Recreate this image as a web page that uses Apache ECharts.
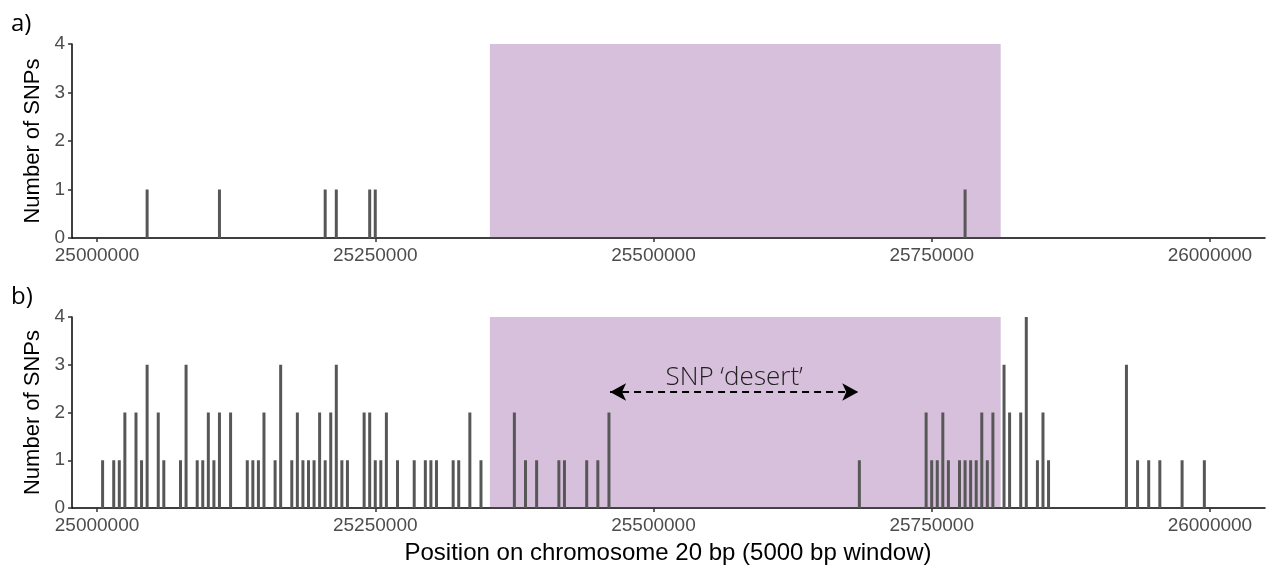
<!DOCTYPE html>
<html>
<head>
<meta charset="utf-8">
<script src="https://cdn.jsdelivr.net/npm/echarts@6/dist/echarts.min.js"></script>
<style>
html,body{margin:0;padding:0;background:#fff;}
#main{width:1268px;height:568px;}
</style>
</head>
<body>
<div id="main"></div>
<script>
// panel a) SNP counts per 5000 bp window
var posA = [25045000, 25110000, 25205000, 25215000, 25245000, 25250000, 25780000];
var cntA = [1, 1, 1, 1, 1, 1, 1];

// panel b)
var posB = [25005000, 25015000, 25020000, 25025000, 25035000, 25040000, 25045000, 25055000, 25060000,
	25075000, 25080000, 25090000, 25095000, 25100000, 25105000, 25110000, 25120000, 25135000, 25140000,
	25145000, 25150000, 25160000, 25165000, 25175000, 25180000, 25185000, 25190000, 25195000, 25200000,
	25205000, 25210000, 25215000, 25220000, 25225000, 25240000, 25245000, 25250000, 25255000, 25260000,
	25270000, 25285000, 25295000, 25300000, 25305000, 25320000, 25325000, 25335000, 25345000,
	25375000, 25385000, 25395000, 25415000, 25420000, 25440000, 25450000, 25460000, 25685000,
	25745000, 25750000, 25755000, 25760000, 25765000, 25775000, 25780000, 25785000, 25790000, 25795000,
	25800000, 25805000, 25815000, 25820000, 25830000, 25835000, 25845000, 25850000, 25855000,
	25925000, 25935000, 25945000, 25955000, 25975000, 25995000];
var cntB = [1, 1, 1, 2, 2, 1, 3, 2, 1,
	1, 3, 1, 1, 2, 1, 2, 2, 1, 1,
	1, 2, 1, 3, 1, 2, 1, 1, 1, 2,
	1, 2, 3, 1, 1, 2, 2, 1, 1, 2,
	1, 1, 1, 1, 1, 1, 1, 2, 1,
	2, 1, 1, 1, 1, 1, 1, 2, 1,
	2, 1, 1, 2, 1, 1, 1, 1, 1, 2,
	1, 2, 3, 2, 2, 4, 1, 2, 1,
	3, 1, 1, 1, 1, 1];

// highlighted region and x ticks
var regionStart = 25353000, regionEnd = 25812000;
var xTicks = [25000000, 25250000, 25500000, 25750000, 26000000];
var desertFrom = 25461000, desertTo = 25684000, desertY = 2.43;

function pairs(xs, ys){
	var out = [];
	for (var i = 0; i < xs.length; i++) out.push([xs[i], ys[i]]);
	return out;
}

var txtCol = '#4d4d4d';
var barCol = '#575757';
var fnt = '"Liberation Sans", Arial, sans-serif';

function xAxisOpt(idx){
	return {
		type: 'value', gridIndex: idx, min: 24977500, max: 26049500,
		axisLine: {show: true, onZero: false, lineStyle: {color: '#000', width: 1.5}},
		axisTick: {show: true, length: 4, customValues: xTicks, lineStyle: {color: '#333', width: 1.5}},
		axisLabel: {customValues: xTicks, color: txtCol, fontSize: 19, fontFamily: fnt, margin: 8,
			formatter: function(v){ return String(v); }},
		splitLine: {show: false}
	};
}
function yAxisOpt(idx){
	return {
		type: 'value', gridIndex: idx, min: 0, max: 4, interval: 1,
		name: 'Number of SNPs', nameLocation: 'middle', nameGap: 19,
		nameTextStyle: {color: '#000', fontSize: 22, fontFamily: fnt},
		axisLine: {show: true, lineStyle: {color: '#000', width: 1.5}},
		axisTick: {show: true, length: 4, lineStyle: {color: '#333', width: 1.5}},
		axisLabel: {color: txtCol, fontSize: 19, fontFamily: fnt, margin: 7},
		splitLine: {show: false}
	};
}

var myChart = echarts.init(document.getElementById('main'));
var option = {
	animation: false,
	backgroundColor: '#fff',
	grid: [
		{left: 72, top: 44, width: 1193, height: 194},
		{left: 72, top: 317, width: 1193, height: 191}
	],
	xAxis: [xAxisOpt(0), xAxisOpt(1)],
	yAxis: [yAxisOpt(0), yAxisOpt(1)],
	graphic: [
		{type: 'text', left: 11, top: 12, style: {text: 'a)', fontSize: 24, fontFamily: '"Open Sans", sans-serif', fill: '#000'}},
		{type: 'text', left: 11, top: 285, style: {text: 'b)', fontSize: 24, fontFamily: '"Open Sans", sans-serif', fill: '#000'}},
		{type: 'text', x: 668, y: 541, style: {text: 'Position on chromosome 20 bp (5000 bp window)',
			align: 'center', fontSize: 24, fontFamily: fnt, fill: '#000'}}
	],
	series: [
		{
			type: 'bar', xAxisIndex: 0, yAxisIndex: 0, barWidth: 3,
			itemStyle: {color: barCol}, data: pairs(posA, cntA)
		},
		{
			type: 'bar', xAxisIndex: 1, yAxisIndex: 1, barWidth: 3,
			itemStyle: {color: barCol}, data: pairs(posB, cntB)
		},
		{
			type: 'line', xAxisIndex: 0, yAxisIndex: 0, data: [], z: 5, silent: true,
			markArea: {silent: true, itemStyle: {color: 'rgba(122,48,138,0.3)'},
				data: [[{coord: [regionStart, 0]}, {coord: [regionEnd, 4]}]]}
		},
		{
			type: 'line', xAxisIndex: 1, yAxisIndex: 1, data: [], z: 5, silent: true,
			markArea: {silent: true, itemStyle: {color: 'rgba(122,48,138,0.3)'},
				data: [[{coord: [regionStart, 0]}, {coord: [regionEnd, 4]}]]},
			markLine: {
				silent: true, symbol: ['arrow', 'arrow'], symbolSize: [13, 16],
				lineStyle: {color: '#000', type: [7, 5], width: 2},
				label: {show: true, position: 'middle', formatter: 'SNP ‘desert’', color: '#222',
					fontSize: 26, fontWeight: 300, fontFamily: '"Open Sans", sans-serif', distance: 1},
				data: [[{coord: [desertFrom, desertY]}, {coord: [desertTo, desertY]}]]
			}
		}
	]
};
myChart.setOption(option);
</script>
</body>
</html>
